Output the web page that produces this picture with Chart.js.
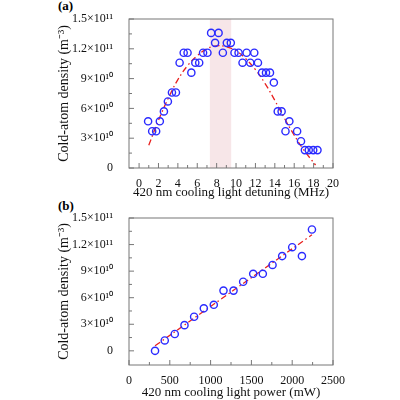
<!DOCTYPE html>
<html>
<head>
<meta charset="utf-8">
<script src="https://cdn.jsdelivr.net/npm/chart.js@4"></script>
<style>
  body { margin: 0; background: #fff; }
  #wrap { position: relative; width: 400px; height: 400px; font-family: "Liberation Serif", serif; }
  canvas { position: absolute; left: 0; }
  .tag { position: absolute; left: 58px; font-weight: bold; font-size: 13px; }
</style>
</head>
<body>
<div id="wrap">
  <div class="tag" style="top:-2px">(a)</div>
  <div class="tag" style="top:198px">(b)</div>
  <div style="position:absolute;top:0;width:400px;height:200px"><canvas id="chartA"></canvas></div>
  <div style="position:absolute;top:200px;width:400px;height:200px"><canvas id="chartB"></canvas></div>
</div>
<script>
// (a) detuning scan, density in units of 1e10 m^-3
const detuning = [0.93, 1.35, 1.76, 2.14, 2.56, 2.97, 3.39, 3.8, 4.18, 4.6, 5.0, 5.39, 5.8, 6.2, 6.6, 7.05, 7.43, 7.84, 8.2, 8.64, 9.05, 9.46, 9.84, 10.26, 10.67, 11.09, 11.47, 11.88, 12.26, 12.68, 13.09, 13.5, 13.9, 14.3, 14.7, 15.1, 15.5, 16.3, 16.7, 17.1, 17.5, 17.96, 18.4];
const densityA = [4.7, 3.7, 3.7, 4.7, 5.7, 6.7, 7.6, 7.6, 10.6, 11.6, 11.6, 9.6, 10.6, 10.6, 11.6, 11.6, 13.6, 12.6, 13.6, 11.6, 12.6, 12.6, 11.6, 11.6, 10.6, 11.6, 10.6, 11.6, 10.6, 9.6, 9.6, 9.6, 8.6, 5.7, 5.7, 3.7, 4.7, 3.7, 2.7, 1.8, 1.8, 1.8, 1.8];
const fitDetuning = [1, 2, 3, 4, 5, 6, 7, 8, 9, 10, 11, 12, 13, 14, 15, 16, 17, 18.2];
const fitDensityA = [2.3, 4.8, 7.0, 8.9, 10.3, 11.3, 12.0, 12.3, 12.2, 11.8, 11.0, 9.9, 8.5, 6.8, 5.0, 3.3, 1.8, 0.3];
const band = [7.3, 9.5];

// (b) power scan
const power = [319, 438, 561, 680, 798, 917, 1039, 1158, 1281, 1399, 1522, 1640, 1759, 1877, 2000, 2119, 2242];
const densityB = [0, 1.17, 1.9, 2.9, 3.85, 4.8, 5.2, 6.8, 6.8, 7.8, 8.7, 8.7, 9.7, 10.7, 11.7, 10.7, 13.7];
const fitPower = [319, 2242];
const fitDensityB = [0.57, 13.1];

const yTicks = [0, 3, 6, 9, 12, 15];
const yLabels = ['0', '3×10¹⁰', '6×10¹⁰', '9×10¹⁰', '1.2×10¹¹', '1.5×10¹¹'];

const FONT = 'Liberation Serif';
const toPts = (xs, ys) => xs.map((x, i) => ({ x: x, y: ys[i] }));

// pink band + frame + inward ticks
const decor = {
    id: 'decor',
    beforeDatasetsDraw(chart, args, opts) {
        const { ctx, chartArea: a, scales } = chart;
        if (opts.band) {
            const x0 = scales.x.getPixelForValue(opts.band[0]);
            const x1 = scales.x.getPixelForValue(opts.band[1]);
            ctx.save();
            ctx.fillStyle = '#f7e6e8';
            ctx.fillRect(x0, a.top, x1 - x0, a.bottom - a.top);
            ctx.restore();
        }
    },
    afterDatasetsDraw(chart, args, opts) {
        const { ctx, chartArea: a, scales } = chart;
        ctx.save();
        ctx.strokeStyle = '#777';
        ctx.lineWidth = 1;
        ctx.strokeRect(a.left, a.top, a.right - a.left, a.bottom - a.top);
        ctx.beginPath();
        opts.xMajor.forEach(v => {
            const p = scales.x.getPixelForValue(v);
            ctx.moveTo(p, a.bottom); ctx.lineTo(p, a.bottom - 5);
        });
        opts.xMinor.forEach(v => {
            const p = scales.x.getPixelForValue(v);
            ctx.moveTo(p, a.bottom); ctx.lineTo(p, a.bottom - 3);
        });
        yTicks.forEach(v => {
            const p = scales.y.getPixelForValue(v);
            ctx.moveTo(a.left, p); ctx.lineTo(a.left + 5, p);
        });
        yTicks.slice(0, -1).forEach(v => {
            const p = scales.y.getPixelForValue(v + 1.5);
            ctx.moveTo(a.left, p); ctx.lineTo(a.left + 3, p);
        });
        ctx.stroke();
        ctx.restore();
    }
};

function makeChart(id, pts, fit, x, yMin, xTitle, decorOpts, xHeight) {
    return new Chart(document.getElementById(id), {
        type: 'scatter',
        data: {
            datasets: [
                {
                    data: pts,
                    showLine: false,
                    pointStyle: 'circle',
                    pointRadius: 3.6,
                    pointBorderWidth: 1.4,
                    borderColor: '#2a2aff',
                    backgroundColor: 'rgba(0,0,0,0)'
                },
                {
                    data: fit,
                    showLine: true,
                    pointRadius: 0,
                    borderColor: '#e8201e',
                    borderWidth: 1.3,
                    borderDash: [6, 3, 1.5, 3],
                    tension: 0.4,
                    fill: false
                }
            ]
        },
        options: {
            responsive: true,
            maintainAspectRatio: false,
            animation: false,
            layout: { padding: { left: 56, right: 67, top: decorOpts.top, bottom: 0 } },
            scales: {
                x: {
                    type: 'linear',
                    min: x.min,
                    max: x.max,
                    afterBuildTicks: s => { s.ticks = decorOpts.xMajor.map(v => ({ value: v })); },
                    afterFit: s => { s.height = xHeight; },
                    grid: { display: false },
                    border: { display: false },
                    ticks: { color: '#111', font: { family: FONT, size: 12 }, padding: 1, maxRotation: 0, callback: v => String(v) },
                    title: { display: true, text: xTitle, color: '#111', font: { family: FONT, size: 13 }, padding: 0 }
                },
                y: {
                    min: yMin,
                    max: 15,
                    afterBuildTicks: s => { s.ticks = yTicks.map(v => ({ value: v })); },
                    afterFit: s => { s.width = 73; },
                    grid: { display: false },
                    border: { display: false },
                    ticks: {
                        color: '#111',
                        font: { family: FONT, size: 12 },
                        padding: 8,
                        callback: v => yLabels[yTicks.indexOf(v)]
                    },
                    title: { display: true, text: 'Cold-atom density (m⁻³)', color: '#111', font: { family: FONT, size: 14 }, padding: 0 }
                }
            },
            plugins: {
                legend: { display: false },
                tooltip: { enabled: false },
                decor: decorOpts
            }
        },
        plugins: [decor]
    });
}

const evens = [0, 2, 4, 6, 8, 10, 12, 14, 16, 18, 20];
makeChart('chartA', toPts(detuning, densityA), toPts(fitDetuning, fitDensityA),
    { min: -1.04, max: 20 }, 0, '420 nm cooling light detuning (MHz)',
    { top: 19, band: band, xMajor: evens, xMinor: evens.map(v => v + 1).filter(v => v < 20) }, 32);

const hundreds = [0, 500, 1000, 1500, 2000, 2500];
makeChart('chartB', toPts(power, densityB), toPts(fitPower, fitDensityB),
    { min: 0, max: 2500 }, -1.6, '420 nm cooling light power (mW)',
    { top: 18, band: null, xMajor: hundreds, xMinor: hundreds.slice(0, -1).map(v => v + 250) }, 35);
</script>
</body>
</html>
